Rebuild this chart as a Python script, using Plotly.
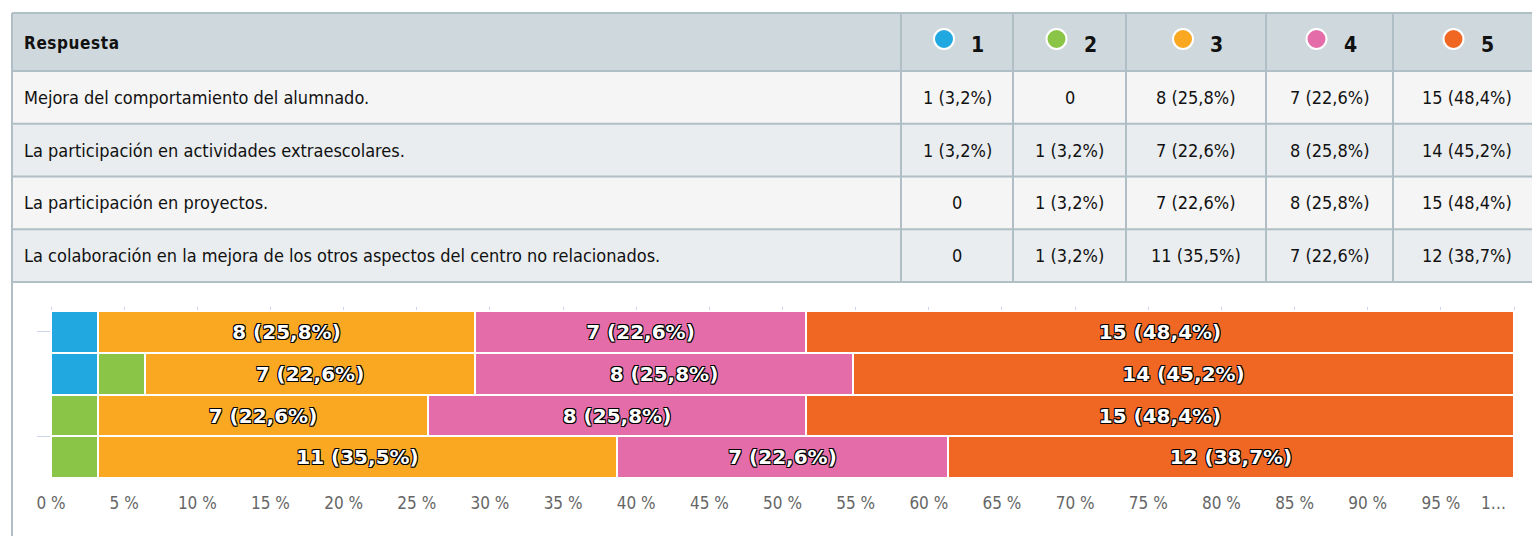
import plotly.graph_objects as go

W, H = 1532, 536

# ---------------- data ----------------
categories = [
    "Mejora del comportamiento del alumnado.",
    "La participación en actividades extraescolares.",
    "La participación en proyectos.",
    "La colaboración en la mejora de los otros aspectos del centro no relacionados.",
]
levels = ["1", "2", "3", "4", "5"]

counts_1 = [1, 1, 0, 0]
counts_2 = [0, 1, 1, 1]
counts_3 = [8, 7, 7, 11]
counts_4 = [7, 8, 8, 7]
counts_5 = [15, 14, 15, 12]

pct_1 = [3.2, 3.2, 0.0, 0.0]
pct_2 = [0.0, 3.2, 3.2, 3.2]
pct_3 = [25.8, 22.6, 22.6, 35.5]
pct_4 = [22.6, 25.8, 25.8, 22.6]
pct_5 = [48.4, 45.2, 48.4, 38.7]

x_tick_values = list(range(0, 101, 5))
x_tick_labels = [f"{v} %" for v in range(0, 100, 5)] + [""]
last_tick_label = "1…"   # truncated "100 %" label as shown in the reference

# ---------------- styles ----------------
colors = ["#22A8E0", "#8BC547", "#FAA822", "#E46CA8", "#F06724"]
counts = [counts_1, counts_2, counts_3, counts_4, counts_5]
pcts = [pct_1, pct_2, pct_3, pct_4, pct_5]

TABLE_FONT = "DejaVu Sans Condensed, Liberation Sans Narrow, DejaVu Sans, sans-serif"
AXIS_FONT = "DejaVu Sans Condensed, DejaVu Sans, sans-serif"
BORDER = "#B0BEC5"
HEADER_BG = "#CFD8DC"
ROW_BG = ["#F5F5F5", "#E9EDEF"]
TICK_FONT = dict(family=AXIS_FONT, size=17, color="#666666")


def fx(p):
    return p / W


def fy(p):
    return 1 - p / H


def cell_label(c, p):
    if c == 0:
        return "0"
    return f"{c} ({p:.1f}%)".replace(".", ",")


fig = go.Figure()

# ---------------- stacked bars ----------------
rows = list(range(len(categories)))
for k in range(len(levels)):
    txt = [cell_label(c, p) if c > 0 else "" for c, p in zip(counts[k], pcts[k])]
    fig.add_trace(go.Bar(
        x=pcts[k], y=rows, orientation="h", name=levels[k],
        marker=dict(color=colors[k], line=dict(color="white", width=2)),
        text=txt, textposition="inside", insidetextanchor="middle", textangle=0,
        textfont=dict(family="DejaVu Sans", size=20, color="white", weight="bold",
                      shadow="1px 1px 0 #000, -1px -1px 0 #000, 1px -1px 0 #000, -1px 1px 0 #000, 0 1px 0 #000, 0 -1px 0 #000"),
        hoverinfo="skip", showlegend=False,
    ))

# invisible trace to create the top tick axis
fig.add_trace(go.Scatter(x=[None], y=[None], xaxis="x2", yaxis="y",
                         showlegend=False, hoverinfo="skip"))

# ---------------- table (header + rows) ----------------
col_edges = [12, 901, 1013, 1126, 1266, 1393, 1540]
header_top, header_bot = 13, 71
row_h = 52.75
row_edges = [header_bot + row_h * i for i in range(len(categories) + 1)]

shapes = []
annotations = []

# fills
shapes.append(dict(type="rect", xref="paper", yref="paper",
                   x0=fx(col_edges[0]), x1=fx(col_edges[-1]),
                   y0=fy(header_bot), y1=fy(header_top),
                   fillcolor=HEADER_BG, line=dict(width=0), layer="below"))
for i in range(len(categories)):
    shapes.append(dict(type="rect", xref="paper", yref="paper",
                       x0=fx(col_edges[0]), x1=fx(col_edges[-1]),
                       y0=fy(row_edges[i + 1]), y1=fy(row_edges[i]),
                       fillcolor=ROW_BG[i % 2], line=dict(width=0), layer="below"))

# horizontal borders
for yy in [header_top] + row_edges:
    shapes.append(dict(type="line", xref="paper", yref="paper",
                       x0=fx(col_edges[0]), x1=fx(col_edges[-1]), y0=fy(yy), y1=fy(yy),
                       line=dict(color=BORDER, width=2)))
# vertical borders
for xx in col_edges[1:-1]:
    shapes.append(dict(type="line", xref="paper", yref="paper",
                       x0=fx(xx), x1=fx(xx), y0=fy(header_top), y1=fy(row_edges[-1]),
                       line=dict(color=BORDER, width=2)))
# left panel border
shapes.append(dict(type="line", xref="paper", yref="paper",
                   x0=fx(col_edges[0]), x1=fx(col_edges[0]), y0=fy(header_top), y1=0,
                   line=dict(color=BORDER, width=2)))

# header text
hc = (header_top + header_bot) / 2
annotations.append(dict(
    xref="paper", yref="paper", x=fx(22), y=fy(hc + 1), xanchor="left", yanchor="middle",
    text="<b><span style='letter-spacing:0.6px'>Respuesta</span></b>", showarrow=False,
    font=dict(family=TABLE_FONT, size=17, color="#111111")))
for j, lev in enumerate(levels):
    cx = (col_edges[j + 1] + col_edges[j + 2]) / 2
    shapes.append(dict(type="circle", xref="paper", yref="paper",
                       x0=fx(cx - 23), x1=fx(cx - 3), y0=fy(49), y1=fy(29),
                       fillcolor=colors[j], line=dict(color="white", width=2)))
    annotations.append(dict(
        xref="paper", yref="paper", x=fx(cx + 12), y=fy(hc + 3), xanchor="left", yanchor="middle",
        text=f"<b>{lev}</b>", showarrow=False,
        font=dict(family=TABLE_FONT, size=21, color="#111111")))

# body text
for i, cat in enumerate(categories):
    cy = (row_edges[i] + row_edges[i + 1]) / 2
    annotations.append(dict(
        xref="paper", yref="paper", x=fx(22), y=fy(cy), xanchor="left", yanchor="middle",
        text=cat, showarrow=False, font=dict(family=TABLE_FONT, size=18, color="#111111")))
    for j in range(len(levels)):
        cx = (col_edges[j + 1] + col_edges[j + 2]) / 2
        annotations.append(dict(
            xref="paper", yref="paper", x=fx(cx), y=fy(cy), xanchor="center", yanchor="middle",
            text=cell_label(counts[j][i], pcts[j][i]), showarrow=False,
            font=dict(family=TABLE_FONT, size=18, color="#111111")))

# truncated last axis label, placed at the 100 % tick and pulled left like the reference
annotations.append(dict(
    xref="x", yref="paper", x=x_tick_values[-1], y=fy(503), xanchor="right", yanchor="middle",
    xshift=-6, text=last_tick_label, showarrow=False, font=TICK_FONT))

# ---------------- layout ----------------
fig.update_layout(
    width=W, height=H,
    margin=dict(l=0, r=0, t=0, b=0, autoexpand=False),
    paper_bgcolor="white", plot_bgcolor="white",
    barmode="stack", bargap=0,
    uniformtext=dict(minsize=20, mode="hide"),
    shapes=shapes, annotations=annotations,
    xaxis=dict(domain=[fx(51), fx(1514)], range=[0, 100], automargin=False,
               tickvals=x_tick_values, ticktext=x_tick_labels,
               ticks="outside", ticklen=10, tickcolor="rgba(0,0,0,0)",
               tickfont=TICK_FONT,
               showgrid=False, zeroline=False, showline=False, fixedrange=True),
    xaxis2=dict(overlaying="x", side="top", anchor="y", range=[0, 100], automargin=False,
                tickvals=x_tick_values, ticks="outside", ticklen=3, tickcolor="#ccd6eb",
                showticklabels=False, showgrid=False, zeroline=False, showline=False,
                fixedrange=True),
    yaxis=dict(domain=[fy(478), fy(311)], range=[3.5, -0.5], automargin=False,
               tickvals=[0, 2.5], ticks="outside", ticklen=13, tickcolor="#ccd6eb",
               showticklabels=False, showgrid=False, zeroline=False, showline=False,
               fixedrange=True),
)

fig.write_html("out.html", config={"displayModeBar": False},
               post_script="document.body.style.margin='0';")
